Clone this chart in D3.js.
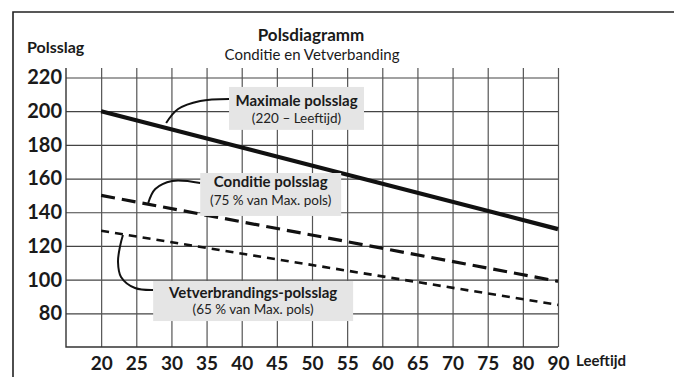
<!DOCTYPE html>
<html>
<head>
<meta charset="utf-8">
<script src="https://cdn.jsdelivr.net/npm/d3@7"></script>
<style>
  html, body { margin: 0; padding: 0; background: #fff; }
  svg { display: block; font-family: Lato, "Open Sans", sans-serif; }
</style>
</head>
<body>
<svg id="chart" width="674" height="377"></svg>
<script>
// Age categories along the bottom axis
const ages = ["20", "25", "30", "35", "40", "45", "50", "55", "60", "65", "70", "75", "80", "90"];
// Heart-rate gridline values
const yTicks = [80, 100, 120, 140, 160, 180, 200, 220];

// Each series runs straight from the first to the last age category
const lineAges = ["20", "90"];
const maxPolsslag = [200, 130];
const conditiePolsslag = [150, 99];
const vetverbrandingPolsslag = [129, 85];

const seriesNames = ["max", "conditie", "vet"];
const seriesValues = [maxPolsslag, conditiePolsslag, vetverbrandingPolsslag];

// Callout texts
const calloutTitles = ["Maximale polsslag", "Conditie polsslag", "Vetverbrandings-polsslag"];
const calloutSubs = ["(220  \u2013 Leeftijd)", "(75 % van Max. pols)", "(65 % van Max. pols)"];

const svg = d3.select("#chart");
const W = 674, H = 377;
const plotLeft = 66, plotRight = 558, plotTop = 77.5, plotBottom = 347;

// x works on category index; index -1 is the left axis line
const x = d3.scaleLinear().domain([-1, ages.length - 1]).range([plotLeft, plotRight]);
const xCat = a => x(ages.indexOf(a));
const y = d3.scaleLinear().domain([60, 220]).range([plotBottom, plotTop]);

// Outer frame (top and left edges)
svg.append("path")
  .attr("d", `M13,${H} V12 H${W}`)
  .attr("fill", "none").attr("stroke", "#222").attr("stroke-width", 1.6);

// Horizontal gridlines with heart-rate labels
const yAxis = svg.append("g")
  .attr("transform", `translate(${plotLeft},0)`)
  .call(d3.axisLeft(y).tickValues(yTicks).tickSize(-(plotRight - plotLeft)).tickPadding(4));
yAxis.select(".domain").remove();
yAxis.selectAll(".tick line").attr("stroke", "#444").attr("stroke-width", 1.2);
yAxis.selectAll(".tick text")
  .attr("font-family", "Lato, sans-serif")
  .attr("font-size", 20).attr("font-weight", 700).attr("fill", "#1a1a1a");

// Vertical gridlines with age labels
const vTop = y(220) - 9.5;
const xAxis = svg.append("g")
  .attr("transform", `translate(0,${plotBottom})`)
  .call(d3.axisBottom(x).tickValues(d3.range(ages.length))
    .tickFormat(i => ages[i]).tickSize(-(plotBottom - vTop)).tickPadding(10));
xAxis.select(".domain").remove();
xAxis.selectAll(".tick line").attr("stroke", "#555").attr("stroke-width", 1.2);
xAxis.selectAll(".tick text")
  .attr("font-family", "Lato, sans-serif")
  .attr("font-size", 19).attr("font-weight", 700).attr("fill", "#1a1a1a");

// Axis lines: left edge and baseline
svg.append("path")
  .attr("d", `M${plotLeft},${vTop} V${plotBottom} H${plotRight}`)
  .attr("fill", "none").attr("stroke", "#333").attr("stroke-width", 1.4);

// Axis titles and chart title
svg.append("text").attr("x", 27).attr("y", 53)
  .attr("font-size", 16).attr("font-weight", 700).attr("fill", "#1a1a1a")
  .text("Polsslag");
svg.append("text").attr("x", 576).attr("y", 366)
  .attr("font-size", 15).attr("font-weight", 700).attr("fill", "#1a1a1a")
  .text("Leeftijd");
svg.append("text").attr("x", 311).attr("y", 40.7).attr("text-anchor", "middle")
  .attr("font-size", 17).attr("font-weight", 700).attr("fill", "#1a1a1a")
  .text("Polsdiagramm");
svg.append("text").attr("x", 312).attr("y", 59.5).attr("text-anchor", "middle")
  .attr("font-size", 15).attr("font-weight", 400).attr("fill", "#1a1a1a")
  .text("Conditie en Vetverbanding");

// Heart-rate lines
const lineStyles = {
  max: { width: 4.2, dash: null },
  conditie: { width: 3.2, dash: "14,7" },
  vet: { width: 2.6, dash: "8,6" }
};
const line = d3.line().x(d => xCat(d[0])).y(d => y(d[1]));
seriesNames.forEach((name, k) => {
  const pts = lineAges.map((a, j) => [a, seriesValues[k][j]]);
  const st = lineStyles[name];
  svg.append("path")
    .attr("d", line(pts))
    .attr("fill", "none").attr("stroke", "#111")
    .attr("stroke-width", st.width)
    .attr("stroke-dasharray", st.dash);
});

// Callouts: box extent [i0, i1, vTop, vBottom], text baselines, leader path (index, value)
const calloutBoxes = [
  [3.64, 7.48, 214.4, 188.9],
  [2.82, 6.83, 163.3, 137.8],
  [1.48, 7.17, 99.2, 75.4]
];
const calloutBaselines = [
  [203.1, 193.0],
  [154.7, 144.3],
  [89.3, 79.6]
];
const calloutLeaders = [
  [[3.64, 207.3], [2.82, 206.1], [2.19, 201.3], [1.85, 193.0]],
  [[2.82, 157.4], [2.02, 158.6], [1.54, 153.8], [1.34, 145.5]],
  [[1.48, 93.8], [0.965, 95.0], [0.566, 101.6], [0.48, 110.5], [0.54, 120.0], [0.62, 126.5]]
];

const leader = d3.line().curve(d3.curveCatmullRom.alpha(0.5))
  .x(d => x(d[0])).y(d => y(d[1]));

calloutBoxes.forEach((b, k) => {
  const g = svg.append("g");
  g.append("path").attr("d", leader(calloutLeaders[k]))
    .attr("fill", "none").attr("stroke", "#111").attr("stroke-width", 2);
  const x0 = x(b[0]), x1 = x(b[1]), y0 = y(b[2]), y1 = y(b[3]);
  g.append("rect").attr("x", x0).attr("y", y0)
    .attr("width", x1 - x0).attr("height", y1 - y0)
    .attr("fill", "#e5e5e5");
  const cx = (x0 + x1) / 2;
  g.append("text").attr("x", cx).attr("y", y(calloutBaselines[k][0]))
    .attr("text-anchor", "middle").attr("font-size", 15).attr("font-weight", 700)
    .attr("fill", "#1a1a1a").text(calloutTitles[k]);
  g.append("text").attr("x", cx).attr("y", y(calloutBaselines[k][1]))
    .attr("text-anchor", "middle").attr("font-size", 13.5).attr("font-weight", 400)
    .attr("fill", "#222").text(calloutSubs[k]);
});
</script>
</body>
</html>
